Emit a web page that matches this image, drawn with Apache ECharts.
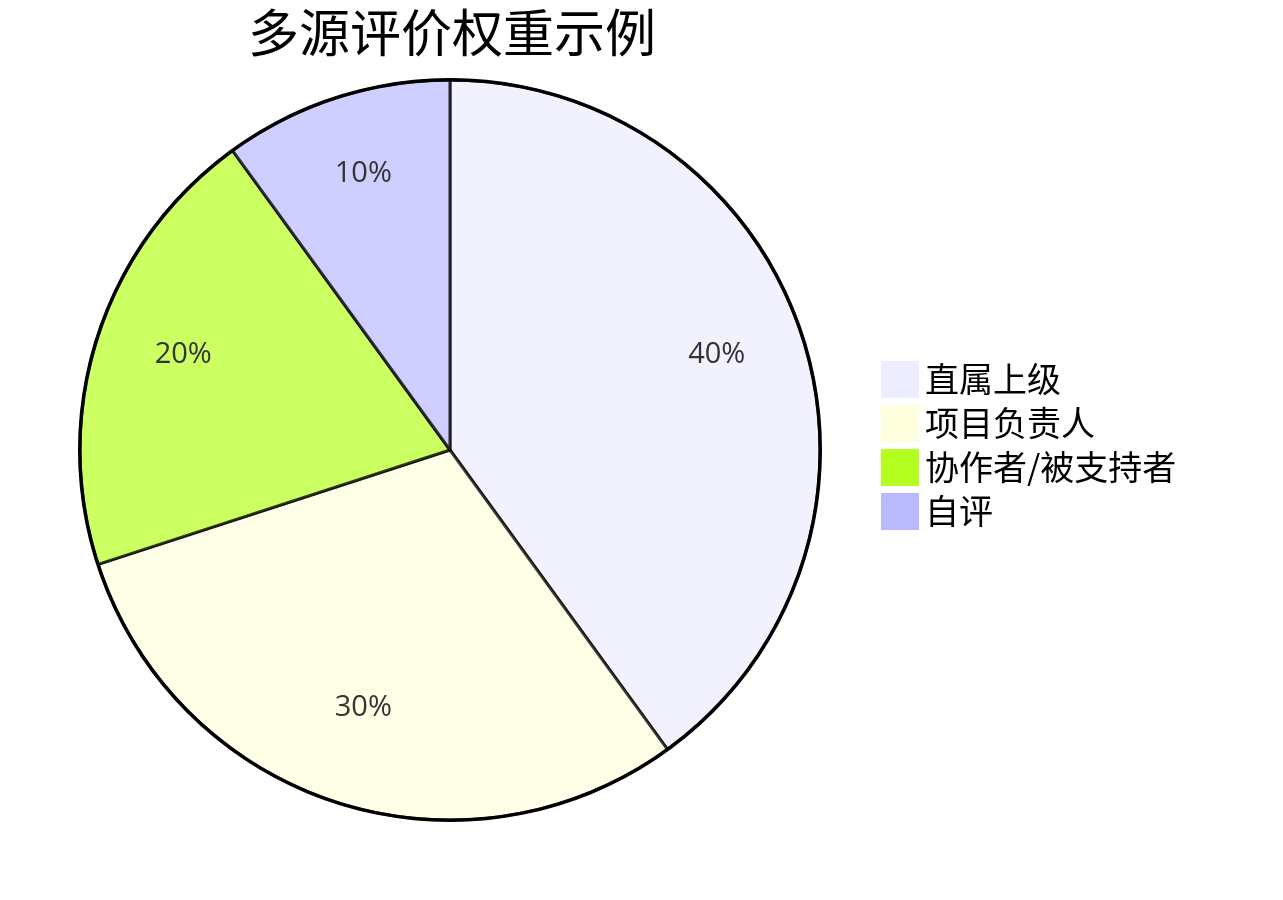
<!DOCTYPE html>
<html>
<head>
<meta charset="utf-8">
<script src="https://cdn.jsdelivr.net/npm/echarts@6/dist/echarts.min.js"></script>
<style>
html,body{margin:0;padding:0;background:#fff;}
#chart{width:1283px;height:900px;}
</style>
</head>
<body>
<div id="chart"></div>
<script>
const titleText = '多源评价权重示例';
const categories = ['直属上级', '项目负责人', '协作者/被支持者', '自评'];
const values = [40, 30, 20, 10];
const colors = ['#ECECFF', '#FFFFDE', '#B5FF20', '#B9B9FF'];

const chart = echarts.init(document.getElementById('chart'), null, {renderer: 'canvas'});
const total = values.reduce((a, b) => a + b, 0);
const pieData = categories.map((n, i) => ({name: n, value: values[i], itemStyle: {color: colors[i]}}));

chart.setOption({
  animation: false,
  backgroundColor: '#ffffff',
  title: {
    text: titleText,
    left: 447,
    textAlign: 'center',
    top: 2,
    textStyle: {fontFamily: 'Noto Sans CJK SC', fontSize: 51, fontWeight: 'normal', color: '#000'}
  },
  legend: {
    orient: 'vertical',
    left: 881,
    top: 361,
    padding: 0,
    itemWidth: 38,
    itemHeight: 37,
    itemGap: 7,
    icon: 'rect',
    data: categories.map(n => ({name: n, itemStyle: {opacity: 1, borderWidth: 0}})),
    textStyle: {fontFamily: 'Noto Sans CJK SC', fontSize: 34, color: '#000', padding: [0, 0, 0, 1]},
    selectedMode: false
  },
  series: [
    {
      type: 'pie',
      center: [450, 450],
      radius: [0, 370],
      startAngle: 90,
      clockwise: true,
      silent: true,
      label: {show: false},
      labelLine: {show: false},
      itemStyle: {opacity: 0.7, borderColor: '#000', borderWidth: 3},
      data: pieData
    },
    {
      type: 'pie',
      center: [450, 450],
      radius: [185, 370],
      startAngle: 90,
      clockwise: true,
      silent: true,
      legendHoverLink: false,
      itemStyle: {color: 'rgba(0,0,0,0)', borderWidth: 0},
      label: {
        show: true,
        position: 'inside',
        formatter: p => '{v|' + Math.round(p.value / total * 100) + '%}\n{s| }',
        rich: {
          v: {fontFamily: 'Open Sans', fontSize: 29, color: '#333', lineHeight: 34},
          s: {fontSize: 2, lineHeight: 18}
        }
      },
      labelLine: {show: false},
      data: categories.map((n, i) => ({name: n + ' ', value: values[i]}))
    },
    {
      type: 'pie',
      center: [450, 450],
      radius: [368.5, 372],
      silent: true,
      label: {show: false},
      labelLine: {show: false},
      itemStyle: {color: '#000', borderWidth: 0},
      data: [{name: '', value: 1}]
    }
  ]
});
</script>
</body>
</html>
